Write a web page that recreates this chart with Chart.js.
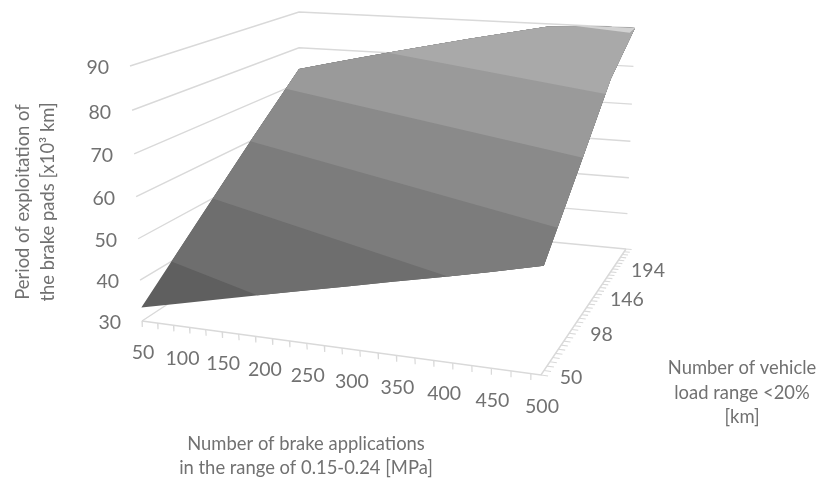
<!DOCTYPE html>
<html>
<head>
<meta charset="utf-8">
<title>Brake pads surface</title>
<script src="https://cdn.jsdelivr.net/npm/chart.js@4"></script>
<style>
html, body { margin: 0; padding: 0; background: #fff; }
canvas { display: block; }
</style>
</head>
<body>
<canvas id="myChart" width="817" height="479"></canvas>
<script>
// axis categories and ticks
const applicationLabels = [50, 100, 150, 200, 250, 300, 350, 400, 450, 500];
const applicationTicks = [50, 70, 90, 110, 130, 150, 170, 190, 210, 230, 250, 270, 290, 310, 330, 350, 370, 390, 410, 430, 450, 470, 490];
const loadLabels = [50, 98, 146, 194];
const loadTicks = [50, 54, 58, 62, 66, 70, 74, 78, 82, 86, 90, 94, 98, 102, 106, 110, 114, 118, 122, 126, 130, 134, 138, 142, 146, 150, 154, 158, 162, 166, 170, 174, 178, 182, 186, 190, 194];
const periodTicks = [30, 40, 50, 60, 70, 80, 90];

// surface values along its outer edges [x10^3 km]
const periodAtLoad50 = [33.3, 35.6, 37.9, 40.2, 42.5, 44.8, 47.2, 49.6, 52.2, 55];
const periodAtLoad194 = [74, 76.2, 78.4, 80.6, 82.8, 85, 87.1, 89.3, 91, 92.5];
const periodAtApp50 = [33.3, 47, 60.8, 74];
const periodAtApp500 = [55, 69, 82.5, 92.5];

// surface colour bands, each one starts at its period value
const bandStarts = [30, 40, 50, 60, 70, 80, 90];
const bandColors = ['#5f5f5f', '#6e6e6e', '#7c7c7c', '#8a8a8a', '#9a9a9a', '#a9a9a9', '#d2d2d2'];

const gridColor = '#d9d9d9';
const textColor = '#717171';
const tickFont = '19.5px Lato';
const titleFont = '18.4px Lato';

// screen corners of the 3D box: floor and top, front-left, front-right, back-right, back-left
const floorCorners = [[142, 321], [541, 375], [626, 249], [299, 218]];
const topCorners = [[130, 66], [548, 105], [635, 28], [299, 12]];
const depthFactor = 1.05;

const appMin = applicationLabels[0];
const appMax = applicationLabels[applicationLabels.length - 1];
const loadMin = loadLabels[0];
const loadMax = loadLabels[loadLabels.length - 1];
const periodMin = periodTicks[0];
const periodMax = periodTicks[periodTicks.length - 1];

// unit square -> quad homography
function quadMap(c) {
    const [x0, y0] = c[0], [x1, y1] = c[1], [x2, y2] = c[2], [x3, y3] = c[3];
    const dx1 = x1 - x2, dx2 = x3 - x2, sx = x0 - x1 + x2 - x3;
    const dy1 = y1 - y2, dy2 = y3 - y2, sy = y0 - y1 + y2 - y3;
    const det = dx1 * dy2 - dx2 * dy1;
    const g = (sx * dy2 - dx2 * sy) / det;
    const h = (dx1 * sy - sx * dy1) / det;
    return (u, v) => {
        const d = g * u + h * v + 1;
        return [
            ((x1 - x0 + g * x1) * u + (x3 - x0 + h * x3) * v + x0) / d,
            ((y1 - y0 + g * y1) * u + (y3 - y0 + h * y3) * v + y0) / d
        ];
    };
}
const floorMap = quadMap(floorCorners);
const topMap = quadMap(topCorners);

function project(app, load, period) {
    const u = (app - appMin) / (appMax - appMin);
    const v = (load - loadMin) / (loadMax - loadMin);
    const w = (period - periodMin) / (periodMax - periodMin);
    const t = w / (w + depthFactor * (1 - w));
    const a = floorMap(u, v), b = topMap(u, v);
    return { x: a[0] + (b[0] - a[0]) * t, y: a[1] + (b[1] - a[1]) * t };
}

// outline of the surface, walked round once
function surfaceOutline() {
    const pts = [];
    applicationLabels.forEach((a, i) => pts.push({ a: a, l: loadMin, p: periodAtLoad50[i] }));
    loadLabels.slice(1).forEach((l, i) => pts.push({ a: appMax, l: l, p: periodAtApp500[i + 1] }));
    for (let i = applicationLabels.length - 2; i >= 0; i--) {
        pts.push({ a: applicationLabels[i], l: loadMax, p: periodAtLoad194[i] });
    }
    for (let i = loadLabels.length - 2; i > 0; i--) {
        pts.push({ a: appMin, l: loadLabels[i], p: periodAtApp50[i] });
    }
    return pts;
}

// keep the part of the outline at or above a period value
function clipAbove(pts, level) {
    const out = [];
    for (let i = 0; i < pts.length; i++) {
        const s = pts[i], e = pts[(i + 1) % pts.length];
        if (s.p >= level) out.push(s);
        if ((s.p >= level) !== (e.p >= level)) {
            const t = (level - s.p) / (e.p - s.p);
            out.push({ a: s.a + (e.a - s.a) * t, l: s.l + (e.l - s.l) * t, p: level });
        }
    }
    return out;
}

function lineSet(data, color, width, order) {
    return {
        type: 'scatter', showLine: true, data: data, borderColor: color, borderWidth: width,
        pointRadius: 0, tension: 0, fill: false, order: order, spanGaps: false
    };
}

const datasets = [];

// walls
periodTicks.forEach(p => {
    datasets.push(lineSet([project(appMin, loadMin, p), project(appMin, loadMax, p), project(appMax, loadMax, p)], gridColor, 1.4, 100));
});
// floor edges
datasets.push(lineSet([project(appMin, loadMin, periodMin), project(appMax, loadMin, periodMin), project(appMax, loadMax, periodMin)], gridColor, 1.5, 99));

// tick marks
const appTickData = [];
applicationTicks.forEach(a => {
    appTickData.push(project(a, loadMin, periodMin), project(a, loadMin, periodMin - 1.5), { x: null, y: null });
});
datasets.push(lineSet(appTickData, gridColor, 1.2, 98));
const loadTickData = [];
loadTicks.forEach(l => {
    loadTickData.push(project(appMax, l, periodMin), project(appMax + 7, l, periodMin), { x: null, y: null });
});
datasets.push(lineSet(loadTickData, gridColor, 1.1, 98));

// surface bands, painted from the lowest up
const outline = surfaceOutline();
bandStarts.forEach((start, i) => {
    const poly = clipAbove(outline, start).map(q => project(q.a, q.l, Math.min(q.p, periodMax)));
    datasets.push({
        type: 'scatter', showLine: true, data: poly, fill: 'shape', backgroundColor: bandColors[i],
        borderColor: bandColors[i], borderWidth: 0, pointRadius: 0, tension: 0, order: 50 - i
    });
});

const textPlugin = {
    id: 'boxText',
    afterDraw(chart) {
        const c = chart.ctx, sx = chart.scales.x, sy = chart.scales.y;
        const px = q => [sx.getPixelForValue(q.x), sy.getPixelForValue(q.y)];
        c.save();
        c.fillStyle = textColor;
        c.textBaseline = 'middle';

        c.font = tickFont;
        c.textAlign = 'right';
        periodTicks.forEach(p => {
            const [x, y] = px(project(appMin, loadMin, p));
            c.fillText(String(p), x - 21, y + 2);
        });
        c.textAlign = 'center';
        applicationLabels.forEach(a => {
            const [x, y] = px(project(a, loadMin, periodMin));
            c.fillText(String(a), x + 1, y + 32);
        });
        loadLabels.forEach(l => {
            const [x, y] = px(project(appMax, l, periodMin));
            const t = (l - loadMin) / (loadMax - loadMin);
            c.fillText(String(l), x + 30 - 8 * t, y + 3 + 19 * t);
        });

        c.font = titleFont;
        c.fillText('Number of brake applications', 306, 444);
        c.fillText('in the range of 0.15-0.24 [MPa]', 306, 468);
        c.fillText('Number of vehicle', 742, 368);
        c.fillText('load range <20%', 742, 393);
        c.fillText('[km]', 742, 417);

        c.translate(23, 202);
        c.rotate(-Math.PI / 2);
        c.fillText('Period of exploitation of', 0, 0);
        c.fillText('the brake pads [x10\u00b3 km]', 0, 25);
        c.restore();
    }
};

const ctx = document.getElementById('myChart').getContext('2d');
new Chart(ctx, {
    type: 'scatter',
    data: { datasets: datasets },
    options: {
        responsive: false,
        animation: false,
        layout: { padding: 0 },
        scales: {
            x: { type: 'linear', min: 0, max: 817, display: false },
            y: { type: 'linear', min: 0, max: 479, reverse: true, display: false }
        },
        plugins: { legend: { display: false }, tooltip: { enabled: false } }
    },
    plugins: [textPlugin]
});
</script>
</body>
</html>
